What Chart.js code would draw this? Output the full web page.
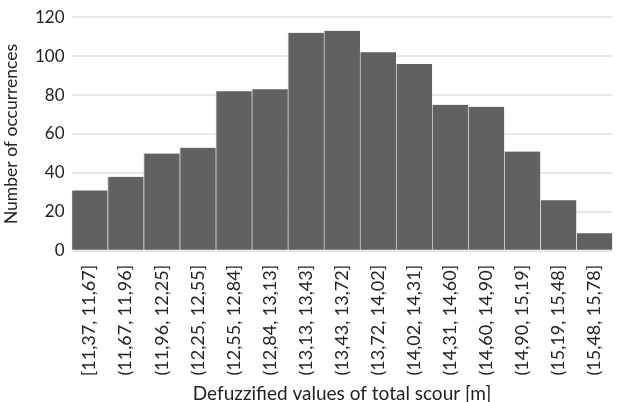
<!DOCTYPE html>
<html>
<head>
<meta charset="utf-8">
<script src="https://cdn.jsdelivr.net/npm/chart.js@4"></script>
<style>
  html, body { margin: 0; padding: 0; background: #ffffff; }
  #wrap { width: 622px; height: 402px; position: relative; }
</style>
</head>
<body>
<div id="wrap"><canvas id="c" width="622" height="402"></canvas></div>
<script>
// Histogram bins of defuzzified total scour (m)
const binLabels = [
  "[11,37, 11,67]", "(11,67, 11,96]", "(11,96, 12,25]", "(12,25, 12,55]",
  "(12,55, 12,84]", "(12,84, 13,13]", "(13,13, 13,43]", "(13,43, 13,72]",
  "(13,72, 14,02]", "(14,02, 14,31]", "(14,31, 14,60]", "(14,60, 14,90]",
  "(14,90, 15,19]", "(15,19, 15,48]", "(15,48, 15,78]"
];
const occurrences = [31, 38, 50, 53, 82, 83, 112, 113, 102, 96, 75, 74, 51, 26, 9];
const yTicks = [0, 20, 40, 60, 80, 100, 120];

const fontFamily = "Lato, 'Open Sans', 'DejaVu Sans', sans-serif";

new Chart(document.getElementById('c'), {
  type: 'bar',
  data: {
    labels: binLabels,
    datasets: [{
      data: occurrences,
      backgroundColor: '#616161',
      borderColor: '#d4d4d4',
      borderWidth: { left: 1, right: 0, top: 0, bottom: 0 },
      borderSkipped: false,
      categoryPercentage: 1.0,
      barPercentage: 1.0
    }]
  },
  options: {
    responsive: false,
    animation: false,
    layout: { padding: { left: 1, right: 1, top: 4, bottom: -3 } },
    plugins: { legend: { display: false }, tooltip: { enabled: false } },
    scales: {
      x: {
        grid: { display: false },
        border: { display: false },
        ticks: {
          minRotation: 90, maxRotation: 90, autoSkip: false,
          color: '#222', padding: 6,
          font: { family: fontFamily, size: 18 }
        },
        title: {
          display: true, text: 'Defuzzified values of total scour [m]',
          color: '#222', padding: { top: 0, bottom: 0 },
          font: { family: fontFamily, size: 19 }
        }
      },
      y: {
        min: 0, max: 120,
        afterBuildTicks: (axis) => { axis.ticks = yTicks.map(v => ({ value: v })); },
        grid: { color: '#e8e8e8', lineWidth: 2, drawTicks: false },
        border: { display: false },
        ticks: {
          color: '#222', padding: 7,
          font: { family: fontFamily, size: 17 }
        },
        title: {
          display: true, text: 'Number of occurrences',
          color: '#222', padding: { top: 0, bottom: 6 },
          font: { family: fontFamily, size: 17.5 }
        }
      }
    }
  }
});
</script>
</body>
</html>
